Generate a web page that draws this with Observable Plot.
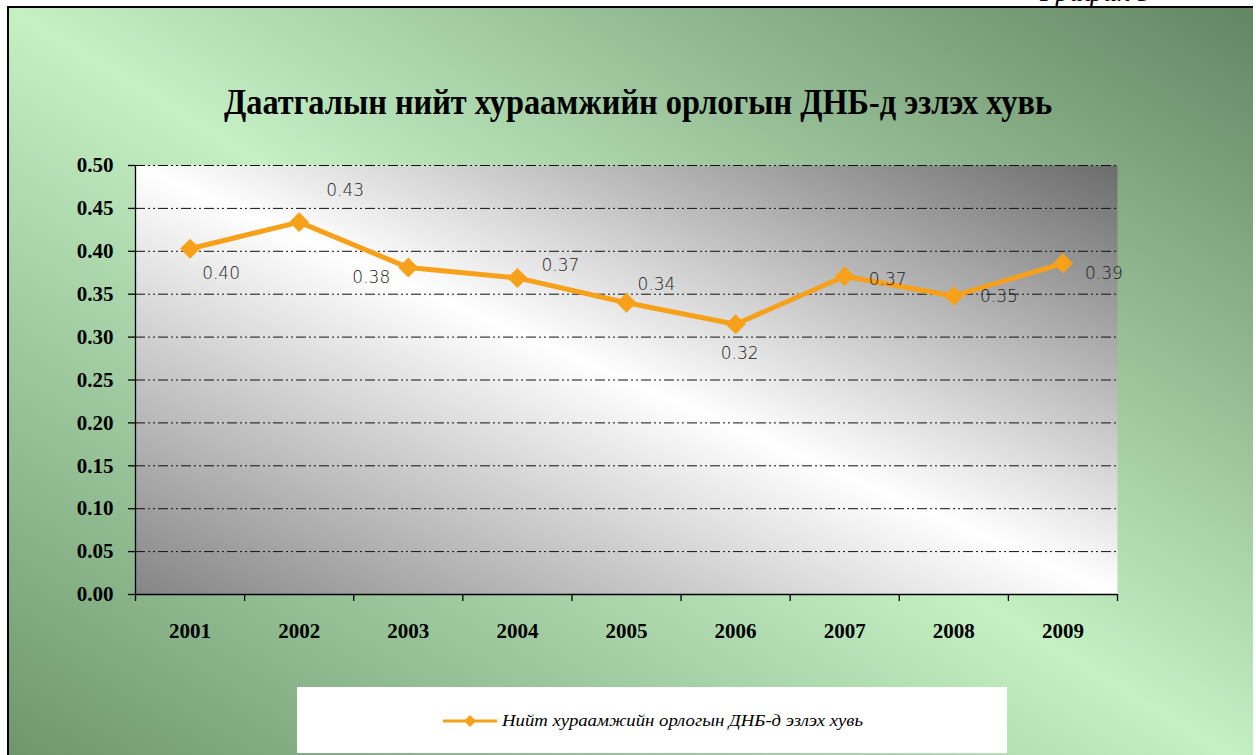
<!DOCTYPE html>
<html><head><meta charset="utf-8">
<script src="https://cdn.jsdelivr.net/npm/d3@7"></script>
<script src="https://cdn.jsdelivr.net/npm/@observablehq/plot@0.6"></script>
<style>
html,body{margin:0;padding:0;background:#fff;width:1256px;height:755px;overflow:hidden;}
#page{position:relative;width:1256px;height:755px;overflow:hidden;}
#frame{position:absolute;left:7px;top:6px;width:1244px;height:760px;border-left:2px solid #000;border-top:2px solid #000;
  background:linear-gradient(to bottom left,#628662 0%,#c4f0c4 50%,#6c956c 100%);}
#corner{position:absolute;left:1040px;top:-22px;font-family:"Liberation Serif","Times New Roman",serif;font-style:italic;font-size:28px;line-height:28px;white-space:nowrap;color:#000;}
#title{position:absolute;left:224px;top:84px;font-family:"Liberation Serif","Times New Roman",serif;font-weight:bold;font-size:36px;line-height:36px;white-space:nowrap;color:#000;transform-origin:0 0;}
#chart{position:absolute;left:0;top:0;}
#legend{position:absolute;left:297px;top:687px;width:710px;height:66px;background:#fff;}
#legend svg{position:absolute;left:144px;top:24px;}
#legtext{position:absolute;left:205px;top:24px;font-family:"Liberation Serif","Times New Roman",serif;font-style:italic;font-size:17px;line-height:20px;white-space:nowrap;color:#000;transform-origin:0 0;}
</style></head>
<body><div id="page">
<div id="frame"></div>
<div id="corner">График 5</div>
<div id="title">Даатгалын нийт хураамжийн орлогын ДНБ-д эзлэх хувь</div>
<div id="chart"></div>
<div id="legend">
  <svg width="60" height="20"><line x1="2" y1="10" x2="56" y2="10" stroke="#F7A11A" stroke-width="3"/><polygon points="29,4 35,10 29,16 23,10" fill="#F7A11A"/></svg>
  <div id="legtext">Нийт хураамжийн орлогын ДНБ-д эзлэх хувь</div>
</div>
</div>
<script>
const years = ["2001","2002","2003","2004","2005","2006","2007","2008","2009"];
const values = [0.403,0.434,0.381,0.369,0.340,0.315,0.371,0.348,0.386];
const yTicks = [0,0.05,0.10,0.15,0.20,0.25,0.30,0.35,0.40,0.45,0.50];
// label placement offsets (style, px)
const labelDx = [31,46,-37,43,30,4,43,45,41];
const labelDy = [25,-32,10,-12,-18,29,3,1,10];

const data = years.map((year,i)=>({pos:i+0.5, year, value:values[i], label:values[i].toFixed(2)}));
const orange = "#F7A11A";
const serif = "Liberation Serif, Times New Roman, serif";

const labelMarks = data.map((d,i)=>Plot.text([d],{x:"pos",y:"value",text:"label",dx:labelDx[i],dy:labelDy[i],
  fontSize:17,fontFamily:"DejaVu Sans",fill:"#1a1a1a",fontWeight:"300"}));

const plot = Plot.plot({
  width:1256, height:660,
  marginLeft:135, marginRight:139, marginTop:165, marginBottom:66,
  style:{background:"transparent", overflow:"visible"},
  x:{type:"linear", domain:[0,years.length], axis:null},
  y:{domain:[0,0.5], axis:null},
  marks:[
    Plot.frame({fill:"url(#plotGrad)", stroke:null}),
    Plot.ruleY(yTicks.slice(1),{x1:0,x2:years.length,stroke:"#111",strokeWidth:1,strokeDasharray:"10,3,2,3,2,3"}),
    Plot.axisY({ticks:yTicks,tickFormat:d3.format(".2f"),label:null,tickSize:7,tickPadding:15,fontSize:21,fontWeight:"bold",fontFamily:serif,color:"#000",strokeWidth:1.3}),
    Plot.ruleX([0],{stroke:"#000",strokeWidth:1.3}),
    Plot.ruleY([0],{stroke:"#000",strokeWidth:1.3}),
    Plot.axisX({ticks:d3.range(0,years.length+1),tickFormat:()=>"",label:null,tickSize:7,color:"#000",strokeWidth:1.3}),
    Plot.axisX({ticks:data.map(d=>d.pos),tickFormat:t=>years[Math.round(t-0.5)],label:null,tickSize:0,tickPadding:29,fontSize:21,fontWeight:"bold",fontFamily:serif,color:"#000"}),
    Plot.line(data,{x:"pos",y:"value",stroke:orange,strokeWidth:5}),
    Plot.dot(data,{x:"pos",y:"value",symbol:"diamond2",r:9,fill:orange,stroke:null}),
    ...labelMarks
  ]
});
const ns="http://www.w3.org/2000/svg";
const defs=document.createElementNS(ns,"defs");
defs.innerHTML='<linearGradient id="plotGrad" x1="1" y1="0" x2="0" y2="1"><stop offset="0" stop-color="#6c6c6c"/><stop offset="0.5" stop-color="#ffffff"/><stop offset="1" stop-color="#858585"/></linearGradient>';
plot.insertBefore(defs, plot.firstChild);
document.getElementById("chart").appendChild(plot);

function fit(id, w){const el=document.getElementById(id);const cw=el.getBoundingClientRect().width;el.style.transform=`scaleX(${w/cw})`;}
fit("title",828);
fit("legtext",361);
</script>
</body></html>
